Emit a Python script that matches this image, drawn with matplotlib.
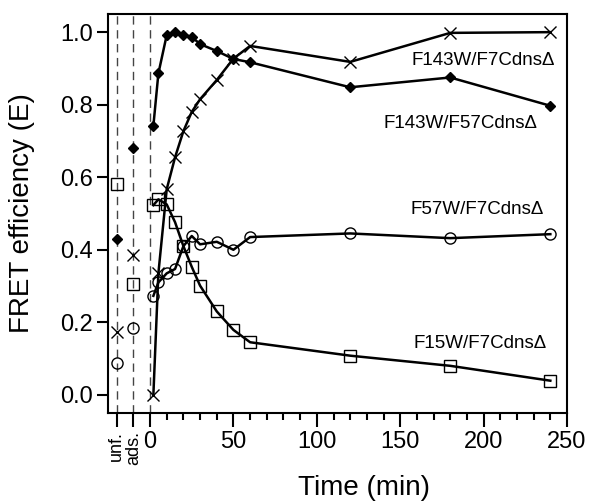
import matplotlib
matplotlib.use('Agg')
import matplotlib.pyplot as plt
import matplotlib.transforms as mtransforms

plt.rcParams['font.family'] = ['Liberation Sans', 'DejaVu Sans']

# time points (min); unf./ads. states are placed at -20 / -10 on the axis
t = [2, 5, 10, 15, 20, 25, 30, 40, 50, 60, 120, 180, 240]
pre_x = [-20, -10]

# F143W/F57CdnsΔ (filled diamonds)
d_pre = [0.43, 0.68]
d_val = [0.742, 0.886, 0.992, 1.0, 0.993, 0.987, 0.967, 0.948, 0.926, 0.917, 0.848, 0.875, 0.797]

# F143W/F7CdnsΔ (crosses)
x_pre = [0.174, 0.386]
x_val = [0.0, 0.335, 0.567, 0.655, 0.727, 0.780, 0.815, 0.868, 0.927, 0.962, 0.918, 0.998, 1.0]

# F57W/F7CdnsΔ (open circles)
c_pre = [0.089, 0.185]
c_val = [0.273, 0.31, 0.335, 0.347, 0.41, 0.438, 0.415, 0.422, 0.40, 0.435, 0.445, 0.432, 0.443]

# F15W/F7CdnsΔ (open squares)
s_pre = [0.580, 0.306]
s_val = [0.523, 0.539, 0.525, 0.476, 0.410, 0.353, 0.301, 0.230, 0.179, 0.145, 0.108, 0.080, 0.039]

labels = ['F143W/F7Cdns\u0394', 'F143W/F57Cdns\u0394', 'F57W/F7Cdns\u0394', 'F15W/F7Cdns\u0394']

fig = plt.figure(figsize=(5.93, 5.04), dpi=100)
ax = fig.add_axes([0.1827, 0.1806, 0.7735, 0.7916])

for xv in [-20, -10, 0]:
    ax.axvline(xv, color='#444444', lw=1, ls=(0, (6, 4)), zorder=1)

lw = 1.8
ax.plot(t, x_val, color='k', lw=lw, marker='x', ms=9, mew=1.0, zorder=3)
ax.plot(pre_x, x_pre, ls='none', color='k', marker='x', ms=9, mew=1.0, zorder=3)

ax.plot(t, d_val, color='k', lw=lw, marker='D', ms=5.5, zorder=4)
ax.plot(pre_x, d_pre, ls='none', color='k', marker='D', ms=5.5, zorder=4)

ax.plot(t, c_val, color='k', lw=lw, marker='o', ms=8, mfc='none', mew=1.0, zorder=3)
ax.plot(pre_x, c_pre, ls='none', color='k', marker='o', ms=8, mfc='none', mew=1.0, zorder=3)

ax.plot(t, s_val, color='k', lw=lw, marker='s', ms=8, mfc='none', mew=1.0, zorder=3)
ax.plot(pre_x, s_pre, ls='none', color='k', marker='s', ms=8, mfc='none', mew=1.0, zorder=3)

ax.text(243, 0.923, labels[0], ha='right', va='center', fontsize=13.5)
ax.text(232, 0.749, labels[1], ha='right', va='center', fontsize=13.5)
ax.text(236, 0.51, labels[2], ha='right', va='center', fontsize=13.5)
ax.text(238, 0.142, labels[3], ha='right', va='center', fontsize=13.5)

ax.set_xlim(-25, 250)
ax.set_ylim(-0.05, 1.05)

xticks = [-20, -10, 0, 50, 100, 150, 200, 250]
xticklabels = ['unf.', 'ads.', '0', '50', '100', '150', '200', '250']
ax.set_xticks(xticks)
ax.set_xticklabels(xticklabels, fontsize=17)
ax.set_xticks(list(range(10, 250, 10)), minor=True)
# rotated state labels, nudged apart a little so they don't collide
for lab, dx in zip(ax.get_xticklabels()[:2], [-2.5, 2.5]):
    lab.set_rotation(90)
    lab.set_va('top')
    lab.set_fontsize(13)
    lab.set_transform(lab.get_transform() + mtransforms.ScaledTranslation(dx / 72, 0, fig.dpi_scale_trans))

ax.set_yticks([0.0, 0.2, 0.4, 0.6, 0.8, 1.0])
ax.set_yticklabels(['0.0', '0.2', '0.4', '0.6', '0.8', '1.0'], fontsize=17)

ax.tick_params(axis='x', which='major', direction='out', length=10, width=1.5, pad=3)
ax.tick_params(axis='y', which='major', direction='out', length=8, width=1.5, pad=3)
ax.tick_params(axis='x', which='minor', direction='out', length=5, width=1.5)
for sp in ax.spines.values():
    sp.set_linewidth(1.5)

ax.set_xlabel('Time (min)', fontsize=20)
ax.xaxis.set_label_coords(0.557, -0.155)
ax.set_ylabel('FRET efficiency (E)', fontsize=20)
ax.yaxis.set_label_coords(-0.16, 0.5)

fig.savefig('out.png', dpi=100)
